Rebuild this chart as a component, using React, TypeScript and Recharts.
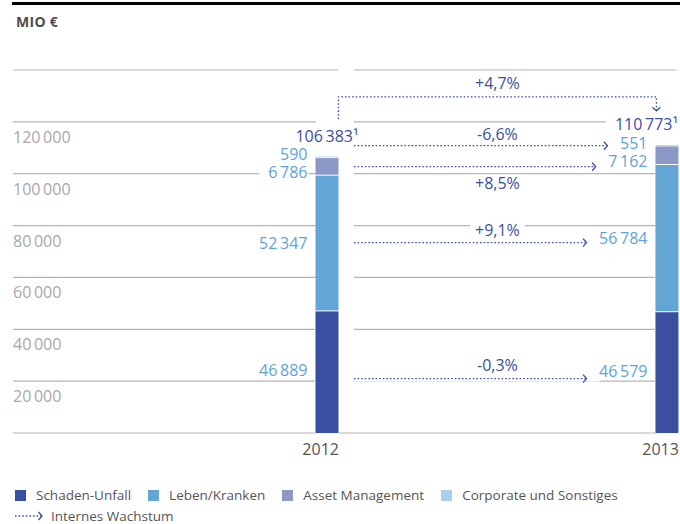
import React from 'react';
import { BarChart, Bar, XAxis, YAxis, ReferenceLine, LabelList } from 'recharts';

// values in MIO €
const years = [2012, 2013];
const schadenUnfall = [46889, 46579];
const lebenKranken = [52347, 56784];
const assetManagement = [6786, 7162];
const corporateSonstiges = [590, 551];
const totals = [106383, 110773];
const segmentGrowth = ['-0,3%', '+9,1%', '+8,5%', '-6,6%'];
const totalGrowth = '+4,7%';
const yTicks = [0, 20000, 40000, 60000, 80000, 100000, 120000, 140000];

const seriesNames = ['Schaden-Unfall', 'Leben/Kranken', 'Asset Management', 'Corporate und Sonstiges'];
const seriesKeys = ['schaden', 'leben', 'asset', 'corporate'];
const seriesValues = [schadenUnfall, lebenKranken, assetManagement, corporateSonstiges];
const seriesColors = ['#3a4fa0', '#63a6d6', '#8c98c8', '#a9cfea'];

// layout
const W = 680;
const H = 460;
const BAR = 23;
const X_DOMAIN = [2011.075, 2013.037];
const Y_MAX = yTicks[yTicks.length - 1];
const labelDy = [-2, -1, 5, -3];
const arrowDy = [8, 5, 6, 3];
const pctDy = [-14, -13, 16, -12];

const FONT = '"Open Sans", sans-serif';
const DARK = '#3b4f9f';
const LIGHT = '#5ea4d8';
const GRID = '#b5b5b5';

const data = years.map((year, i) => ({
  year,
  schaden: schadenUnfall[i],
  leben: lebenKranken[i],
  asset: assetManagement[i],
  corporate: corporateSonstiges[i],
  total: totals[i],
}));

// middle of each 2013 segment, where the growth arrows point to
const arrowValues = seriesValues.map((vals, s) => {
  const below = seriesValues.slice(0, s).reduce((a, v) => a + v[1], 0);
  return below + vals[1] / 2;
});

const fmt = (n: number) => String(n).replace(/\B(?=(\d{3})+(?!\d))/g, '\u2009');

let ctx: CanvasRenderingContext2D | null = null;
function measure(s: string, size = 16) {
  if (!ctx) ctx = document.createElement('canvas').getContext('2d');
  if (!ctx) return s.length * size * 0.55;
  ctx.font = `${size}px "Open Sans"`;
  return ctx.measureText(s).width;
}

function box(p: any) {
  const v = p.viewBox ?? p;
  return { x: Number(v.x), y: Number(v.y), w: Number(v.width), h: Number(v.height) };
}

const valueLabel = (s: number) => (props: any) => {
  const { x, y, h } = box(props);
  const text = fmt(Number(props.value));
  const right = x - 8;
  const cy = y + h / 2 + labelDy[s];
  const tw = measure(text);
  return (
    <g>
      <rect x={right - tw - 9} y={cy - 7} width={tw + 10} height={14} fill="#fff" />
      <text x={right} y={cy} textAnchor="end" dominantBaseline="central" fontSize={16} fill={LIGHT} fontFamily={FONT}>
        {text}
      </text>
    </g>
  );
};

const totalLabel = (props: any) => {
  const { x, y, w } = box(props);
  const text = fmt(Number(props.value)) + '\u00b9';
  const tw = measure(text);
  const right = Math.min(x + w / 2 + tw / 2, W - 2);
  const cy = y - 20.5;
  return (
    <g>
      <rect x={right - tw - 9} y={cy - 7} width={tw + 10} height={14} fill="#fff" />
      <text x={right} y={cy} textAnchor="end" dominantBaseline="central" fontSize={16} fill={DARK} fontFamily={FONT}>
        {text}
      </text>
    </g>
  );
};

function GrowthArrow(p: any) {
  const s = p.s as number;
  const y = p.y1 + labelDy[s] + arrowDy[s];
  const start = p.x1 + BAR / 2 + 15;
  const labelRight = p.x2 - BAR / 2 - 8;
  const tip = labelRight - measure(fmt(seriesValues[s][1])) - 13;
  const pct = segmentGrowth[s];
  const pw = measure(pct);
  const cx = (p.x1 + p.x2) / 2;
  const py = y + pctDy[s];
  return (
    <g>
      <rect x={start} y={y - 3} width={tip - start + 13} height={6} fill="#fff" />
      <line x1={start} y1={y} x2={tip - 1} y2={y} stroke={DARK} strokeWidth={1.3} strokeDasharray="1.6 2" />
      <path d={`M${tip - 3.5},${y - 4}L${tip},${y}L${tip - 3.5},${y + 4}`} fill="none" stroke={DARK} strokeWidth={1.3} />
      <rect x={cx - pw / 2 - 5} y={py - 8} width={pw + 10} height={16} fill="#fff" />
      <text x={cx} y={py} textAnchor="middle" dominantBaseline="central" fontSize={16} fill={DARK} fontFamily={FONT}>
        {pct}
      </text>
    </g>
  );
}

function TotalConnector(p: any) {
  const lx = p.x1 + BAR / 2 - 0.5;
  const rx = p.x2 - BAR / 2 + 0.5;
  const top = Math.min(p.y1, p.y2) - 49;
  const startY = p.y1 - 38;
  const tipY = p.y2 - 35;
  const cx = (p.x1 + p.x2) / 2;
  return (
    <g>
      <path d={`M${lx},${startY}V${top}H${rx}V${tipY - 1}`} fill="none" stroke={DARK} strokeWidth={1.3} strokeDasharray="1.6 2" />
      <path d={`M${rx - 4},${tipY - 3.5}L${rx},${tipY}L${rx + 4},${tipY - 3.5}`} fill="none" stroke={DARK} strokeWidth={1.3} />
      <text x={cx} y={top - 14} textAnchor="middle" dominantBaseline="central" fontSize={16} fill={DARK} fontFamily={FONT}>
        {totalGrowth}
      </text>
    </g>
  );
}

// left-panel gridline, carrying its tick label just below it
function LeftGrid(p: any) {
  const v = p.v as number;
  const showLabel = v !== 0 && v !== Y_MAX;
  return (
    <g>
      <line x1={p.x1} y1={p.y1} x2={v === Y_MAX ? p.x2 + BAR / 2 - 1 : p.x2 - BAR / 2} y2={p.y2} stroke={GRID} strokeWidth={1.2} />
      {showLabel ? (
        <text x={p.x1} y={p.y1 + 15} textAnchor="start" dominantBaseline="central" fontSize={16} fill="#a8a8a8" fontFamily={FONT}>
          {fmt(v)}
        </text>
      ) : null}
    </g>
  );
}

function RightGrid(p: any) {
  const v = p.v as number;
  return (
    <line
      x1={p.x1 + BAR / 2 + (v === 0 ? 0 : 15)}
      y1={p.y1}
      x2={v === Y_MAX ? p.x2 + 9 : p.x2 - BAR / 2}
      y2={p.y2}
      stroke={GRID}
      strokeWidth={1.2}
    />
  );
}

const segShape = (s: number) => (p: any) => {
  const gap = s > 0 ? 1 : 0;
  return <rect x={p.x} y={p.y} width={p.width} height={Math.max(p.height - gap, 0.8)} fill={seriesColors[s]} />;
};

function XTick(p: any) {
  return (
    <text x={p.x + BAR / 2} y={p.y + 16} textAnchor="end" dominantBaseline="central" fontSize={16} fill="#555" fontFamily={FONT}>
      {p.payload.value}
    </text>
  );
}

function ChartLegend() {
  const row: React.CSSProperties = { display: 'flex', alignItems: 'center', height: 16, lineHeight: '16px' };
  return (
    <div style={{ position: 'absolute', left: 15, top: 487, fontSize: 13.5, color: '#555', fontFamily: FONT }}>
      <div style={row}>
        {seriesNames.map((n, i) => (
          <div key={n} style={{ display: 'flex', alignItems: 'center', marginRight: 17 }}>
            <span style={{ width: 11, height: 11, background: seriesColors[i], marginRight: 10, display: 'inline-block' }} />
            {n}
          </div>
        ))}
      </div>
      <div style={{ ...row, marginTop: 5 }}>
        <svg width={30} height={12} style={{ marginRight: 6 }}>
          <line x1={0} y1={6} x2={26} y2={6} stroke={DARK} strokeWidth={1.3} strokeDasharray="1.6 2" />
          <path d="M23.5,2L27,6L23.5,10" fill="none" stroke={DARK} strokeWidth={1.3} />
        </svg>
        Internes Wachstum
      </div>
    </div>
  );
}

export default function App() {
  return (
    <div style={{ position: 'absolute', left: 0, top: 0, width: 680, height: 524, background: '#fff', fontFamily: FONT, overflow: 'hidden' }}>
      <div style={{ position: 'absolute', left: 12, top: 2, width: 668, height: 3, background: '#000' }} />
      <div style={{ position: 'absolute', left: 16, top: 13, fontSize: 14, fontWeight: 700, color: '#4d4d4d', lineHeight: '18px', letterSpacing: 0.3 }}>
        MIO €
      </div>
      <div style={{ position: 'absolute', left: 0, top: 0 }}>
        <BarChart width={W} height={H} data={data} margin={{ top: 70, right: 0, bottom: 0, left: 13 }} barSize={BAR}>
          <XAxis
            type="number"
            dataKey="year"
            domain={X_DOMAIN}
            ticks={years}
            interval={0}
            height={27}
            axisLine={false}
            tickLine={false}
            tickSize={0}
            tickMargin={0}
            tick={XTick}
            allowDataOverflow
          />
          <YAxis type="number" domain={[0, Y_MAX]} ticks={yTicks} width={0} hide allowDataOverflow />
          {yTicks.map((v) => (
            <ReferenceLine
              key={'gl' + v}
              ifOverflow="visible"
              segment={[{ x: X_DOMAIN[0], y: v }, { x: years[0], y: v }]}
              shape={(p: any) => <LeftGrid {...p} v={v} />}
            />
          ))}
          {yTicks.map((v) => (
            <ReferenceLine
              key={'gr' + v}
              ifOverflow="visible"
              segment={[{ x: years[0], y: v }, { x: years[1], y: v }]}
              shape={(p: any) => <RightGrid {...p} v={v} />}
            />
          ))}
          {seriesKeys.map((k, s) => (
            <ReferenceLine
              key={'ar' + k}
              ifOverflow="visible"
              segment={[{ x: years[0], y: arrowValues[s] }, { x: years[1], y: arrowValues[s] }]}
              shape={(p: any) => <GrowthArrow {...p} s={s} />}
            />
          ))}
          <ReferenceLine
            ifOverflow="visible"
            segment={[{ x: years[0], y: totals[0] }, { x: years[1], y: totals[1] }]}
            shape={(p: any) => <TotalConnector {...p} />}
          />
          {seriesKeys.map((k, s) => (
            <Bar key={k} dataKey={k} stackId="a" fill={seriesColors[s]} isAnimationActive={false} shape={segShape(s)}>
              <LabelList dataKey={k} content={valueLabel(s)} />
              {s === 3 ? <LabelList dataKey="total" content={totalLabel} /> : null}
            </Bar>
          ))}
        </BarChart>
      </div>
      <ChartLegend />
    </div>
  );
}
